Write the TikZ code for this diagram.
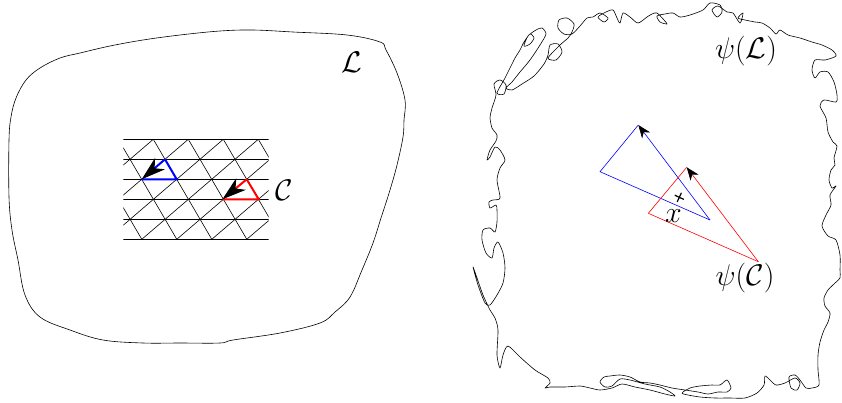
\documentclass[tikz,border=0pt]{standalone}
\usetikzlibrary{arrows.meta}
\begin{document}
\begin{tikzpicture}[x=1pt,y=-1pt,
  blob/.style={line width=0.6pt, line join=round},
  latline/.style={line width=0.6pt},
  thicktri/.style={line width=2pt, line join=miter},
  thintri/.style={line width=0.6pt},
  bigtip/.style={-{Stealth[black,length=24pt,width=15pt,inset=7pt]}},
  smalltip/.style={-{Stealth[black,length=13pt,width=10pt,inset=4pt]}},
  lab/.style={font=\fontsize{24.88}{30}\selectfont, inner sep=0pt, scale=1.2}]
\useasboundingbox (0,0) rectangle (842,402);

% ---------- left region L ----------
\draw[blob] plot[smooth cycle, tension=0.6] coordinates {
(253,30) (293,32) (347,35) (380,42) (386,50) (397,73) (405,100) (404,120)
(403,137) (397,165) (390,190) (381,218) (373,243) (362,270) (350,297)
(335,312) (320,323) (280,333) (233,340) (220,343) (180,343) (143,343)
(103,340) (70,330) (40,317) (25,295) (18,260) (12,230) (9,197) (9,140)
(11,117) (16,98) (26,80) (40,68) (60,58) (80,53) (110,46) (143,40)
(180,35) (220,31)};

% ---------- lattice C ----------
\begin{scope}
\clip (123.3,139.3) rectangle (268.7,239.3);
\begin{scope}[shift={(141.7pt,-179.3pt)}, x={(35pt,0pt)}, y={(23.3pt,20pt)}]
  \foreach \j in {-3,...,2} \draw[latline] (-8,\j) -- (8,\j);
  \foreach \i in {-6,...,8} \draw[latline] (\i,-3) -- (\i,2);
  \foreach \c in {-6,...,10} \draw[latline] (\c+3,-3) -- (\c-2,2);
\end{scope}
\end{scope}

% blue triangle
\coordinate (bt) at (165,159.3);
\coordinate (bl) at (141.7,179.3);
\coordinate (br) at (176.7,179.3);
\draw[thicktri, blue] (bt) -- (br) -- (bl);
\draw[thicktri, blue, bigtip] (bt) -- (bl);
% red triangle
\coordinate (rt) at (246.7,179.3);
\coordinate (rl) at (222.4,199.3);
\coordinate (rr) at (258.7,199.3);
\draw[thicktri, red] (rt) -- (rr) -- (rl);
\draw[thicktri, red, bigtip] (rt) -- (rl);

\node[lab] (labL) at (352,62) {$\mathcal{L}$};
\node[lab] (labC) at (284,190) {$\mathcal{C}$};

% ---------- right region psi(L) ----------
\draw[blob] plot[smooth cycle, tension=0.45] coordinates {
(492,108) (496,95) (494,84) (500,80) (506,85) (504,94) (497,93)
(505,78) (510,68) (515,58) (520,50) (524,42) (530,34) (534,38) (530,44)
(524,46) (528,36) (536,30) (542,28) (546,34) (540,45) (530,60) (520,72)
(512,82) (506,88) (512,90) (522,84) (534,76) (544,64) (548,55) (550,45)
(558,44) (562,52) (556,60) (548,58) (560,45) (568,38) (572,32) (574,24)
(567,18) (559,20) (558,28) (564,34) (572,34) (580,26) (587,18) (593,17)
(600,13) (608,18) (604,22) (598,17) (606,12) (613,10) (617,18) (620,23)
(623,13) (630,17) (638,23) (647,17) (652,14) (657,13) (664,20) (667,24)
(660,22) (657,16) (665,14) (673,13) (680,17) (690,15) (703,10) (710,3)
(720,5) (722,12) (717,17) (712,10) (718,6) (727,12) (733,13) (740,23)
(743,13) (738,18) (745,20) (755,22) (762,23) (770,28) (776,34)
(780,30) (788,35) (800,38) (812,42) (822,45) (832,50) (836,56) (825,60)
(815,60) (812,70) (815,78) (820,72) (828,72) (834,82) (837,95) (836,102)
(824,100) (820,106) (826,118) (828,132) (833,142) (837,146) (834,158)
(835,165) (831,170) (829,180) (832,188) (836,186) (830,195) (831,205)
(826,215) (822,226) (828,236) (836,240) (840,255) (840,270) (840,278)
(835,283) (828,290) (824,298) (825,306) (830,313) (828,322) (824,330)
(820,342) (818,355) (818,370) (819,385) (812,388) (806,388) (800,380)
(795,375) (789,377) (791,388) (797,390) (800,383) (795,378) (785,383)
(776,385) (770,380) (765,376) (764,385) (757,393) (745,398) (730,398)
(715,398) (700,397) (688,395) (682,393) (690,388) (700,386) (712,385)
(720,385) (727,380) (731,388) (727,392) (718,392) (708,394) (698,392)
(685,390) (672,388) (660,385) (650,383) (640,382) (630,377) (620,375)
(610,376) (604,377) (600,382) (605,387) (612,386) (620,379) (630,380)
(645,384) (660,387) (670,392) (675,396) (665,394) (650,390) (635,387)
(622,384) (612,388) (600,390) (590,388) (580,386) (565,387) (550,387)
(545,388) (550,383) (548,378) (535,370) (520,357) (508,346) (503,355)
(500,368) (497,355) (498,330) (495,318) (490,310) (483,295) (476,275)
(473,267) (478,285) (485,303) (490,305) (497,295) (503,283) (505,268)
(503,253) (498,242) (494,248) (492,258) (486,253) (482,240) (483,230)
(490,228) (495,232) (497,222) (497,210) (496,205) (490,208) (489,202)
(493,200) (500,198) (497,180) (500,168) (505,160) (500,150) (495,147)
(490,157) (487,160) (490,150) (496,141) (497,135) (492,128) (490,118)
(491,112)};

% blue image triangle
\coordinate (pbt) at (638.3,125);
\coordinate (pbl) at (600,171.7);
\coordinate (pbr) at (710,220);
\draw[thintri, blue] (pbt) -- (pbl) -- (pbr);
\draw[thintri, blue, smalltip] (pbr) -- (pbt);
% red image triangle
\coordinate (prt) at (686.7,167.3);
\coordinate (prl) at (648.3,213.3);
\coordinate (prr) at (758.3,261.7);
\draw[thintri, red] (prt) -- (prl) -- (prr);
\draw[thintri, red, smalltip] (prr) -- (prt);

% marked point
\coordinate (px) at (679.3,197.3);
\draw[line width=1.2pt, shift={(px)}, rotate=-25] (-5,0) -- (5,0) (0,-5) -- (0,5);

\node[lab] (labx) at (673.5,216) {$x$};
\node[lab] (labPC) at (745,278) {$\psi(\mathcal{C})$};
\node[lab] (labPL) at (746,51) {$\psi(\mathcal{L})$};
\end{tikzpicture}
\end{document}
